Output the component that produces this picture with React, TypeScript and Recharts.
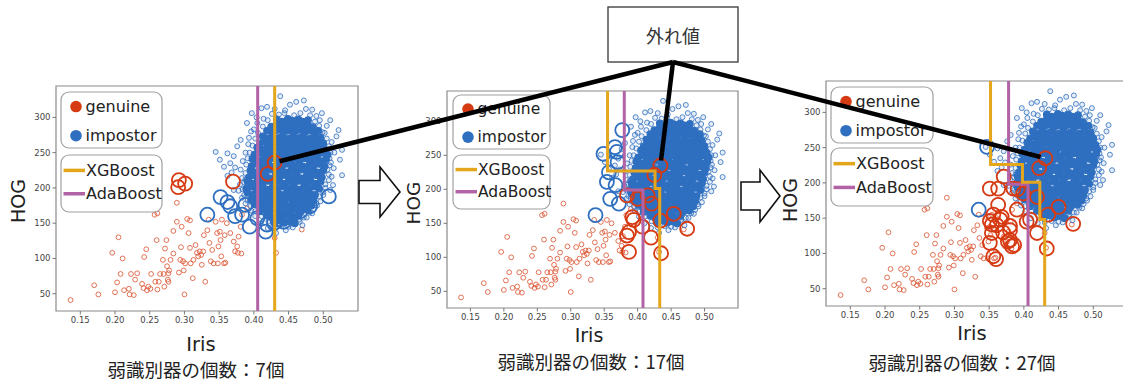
import React from 'react';
import { ScatterChart, Scatter, XAxis, YAxis, ReferenceArea } from 'recharts';

type Pt = [number, number];

const X_DOMAIN: [number, number] = [0.115, 0.55];
const Y_DOMAIN: [number, number] = [25.5, 344.5];
const X_TICKS = [0.15, 0.2, 0.25, 0.3, 0.35, 0.4, 0.45, 0.5];
const Y_TICKS = [50, 100, 150, 200, 250, 300];
const CAPTIONS = ['弱識別器の個数：7個', '弱識別器の個数：17個', '弱識別器の個数：27個'];
const CLASS_NAMES = ['genuine', 'impostor'];
const MODEL_NAMES = ['XGBoost', 'AdaBoost'];
const OUTLIER_LABEL = '外れ値';

const RED = '#D63A12';
const RED_SMALL = '#DD5A3A';
const BLUE = '#2F6FC0';
const XGB_COLOR = '#E3A61C';
const ADA_COLOR = '#B263A6';

// genuine (small markers, same in every panel)
const genuine: Pt[] = [
  [0.136, 41], [0.170, 62], [0.176, 49], [0.196, 108], [0.200, 52], [0.203, 66], [0.205, 130], [0.208, 78],
  [0.211, 100], [0.213, 55], [0.220, 57], [0.221, 49], [0.223, 78], [0.227, 48], [0.229, 70], [0.232, 79],
  [0.239, 64], [0.241, 58], [0.242, 102], [0.245, 113], [0.246, 55], [0.248, 60], [0.251, 57], [0.252, 78],
  [0.258, 67], [0.260, 126], [0.261, 56], [0.263, 67], [0.265, 78], [0.269, 98], [0.270, 78], [0.271, 60],
  [0.272, 114], [0.274, 126], [0.275, 89], [0.276, 70], [0.277, 79], [0.277, 67], [0.278, 83], [0.280, 98],
  [0.284, 107], [0.284, 139], [0.289, 179], [0.289, 152], [0.292, 80], [0.294, 98], [0.295, 116], [0.296, 145],
  [0.298, 96], [0.299, 83], [0.300, 49], [0.301, 93], [0.304, 156], [0.306, 136], [0.308, 154], [0.308, 115],
  [0.309, 93], [0.312, 72], [0.313, 98], [0.316, 119], [0.318, 108], [0.320, 103], [0.322, 110], [0.324, 105],
  [0.325, 91], [0.327, 110], [0.328, 133], [0.330, 67], [0.333, 140], [0.335, 155], [0.336, 122], [0.338, 96],
  [0.340, 112], [0.342, 93], [0.345, 152], [0.347, 136], [0.348, 93], [0.349, 117], [0.351, 138], [0.352, 126],
  [0.353, 103], [0.354, 155], [0.357, 93], [0.358, 133], [0.359, 94], [0.361, 150], [0.366, 136], [0.371, 124],
  [0.373, 110], [0.376, 117], [0.377, 108], [0.378, 131], [0.381, 145], [0.382, 107], [0.383, 162], [0.390, 171],
  [0.397, 185], [0.412, 190], [0.419, 178], [0.430, 129], [0.432, 108], [0.448, 164], [0.469, 141], [0.257, 162],
  [0.261, 164],
];

// impostor, sparse outer ring of the cloud
const impostorEdge: Pt[] = [
  [0.438, 330], [0.461, 322], [0.472, 324], [0.452, 318], [0.484, 311], [0.498, 306], [0.419, 315], [0.411, 313],
  [0.397, 306], [0.404, 300], [0.426, 305], [0.490, 302], [0.510, 296], [0.505, 288], [0.522, 282], [0.519, 273],
  [0.512, 265], [0.527, 254], [0.516, 250], [0.524, 240], [0.515, 228], [0.527, 218], [0.508, 211], [0.514, 204],
  [0.510, 197], [0.500, 190], [0.496, 181], [0.491, 175], [0.484, 164], [0.476, 158], [0.465, 155], [0.470, 147],
  [0.450, 145], [0.432, 136], [0.420, 143], [0.410, 150], [0.402, 160], [0.396, 168], [0.388, 178], [0.383, 186],
  [0.378, 196], [0.371, 197], [0.380, 205], [0.383, 214], [0.388, 212], [0.381, 226], [0.373, 229], [0.362, 217],
  [0.366, 235], [0.351, 240], [0.362, 249], [0.345, 251], [0.371, 245], [0.376, 259], [0.381, 268], [0.393, 271],
  [0.390, 292], [0.400, 283], [0.388, 250], [0.392, 262], [0.384, 238], [0.357, 230], [0.368, 222], [0.396, 280],
  [0.405, 292], [0.414, 298], [0.430, 312], [0.445, 310], [0.475, 312], [0.495, 296], [0.502, 278], [0.509, 242],
  [0.506, 226], [0.512, 216], [0.503, 205],
  [0.436, 304], [0.444, 306], [0.458, 303], [0.467, 306], [0.481, 303], [0.420, 296], [0.488, 294], [0.413, 287],
  [0.494, 288], [0.406, 278], [0.499, 279], [0.402, 270], [0.505, 270], [0.398, 260], [0.508, 259], [0.394, 250],
  [0.510, 250], [0.391, 242], [0.511, 236], [0.389, 233], [0.509, 232], [0.388, 221], [0.508, 219], [0.386, 208],
  [0.503, 200], [0.384, 198], [0.500, 194], [0.386, 190], [0.494, 188], [0.391, 182], [0.490, 178], [0.395, 174],
  [0.486, 170], [0.402, 167], [0.480, 165], [0.411, 160], [0.472, 158], [0.421, 153], [0.466, 152], [0.430, 144],
  [0.440, 146], [0.456, 144], [0.446, 140],
];

// impostor, dense core of the cloud
const impostorCore: Pt[] = [
  [0.433, 297], [0.440, 294], [0.449, 298], [0.455, 295], [0.464, 297], [0.470, 294], [0.478, 296],
  [0.425, 287], [0.433, 290], [0.439, 286], [0.448, 289], [0.454, 286], [0.463, 290], [0.469, 287], [0.478, 289], [0.485, 286],
  [0.419, 281], [0.427, 278], [0.433, 282], [0.442, 279], [0.448, 281], [0.457, 278], [0.463, 282], [0.472, 279], [0.478, 281], [0.487, 278], [0.493, 281],
  [0.413, 273], [0.421, 270], [0.427, 274], [0.436, 271], [0.442, 273], [0.451, 270], [0.457, 274], [0.466, 271], [0.472, 273], [0.481, 270], [0.487, 273], [0.496, 271],
  [0.409, 263], [0.416, 266], [0.425, 263], [0.431, 265], [0.440, 262], [0.446, 265], [0.455, 263], [0.461, 266], [0.470, 263], [0.476, 265], [0.485, 262], [0.491, 265], [0.500, 263],
  [0.405, 257], [0.413, 254], [0.419, 257], [0.428, 255], [0.434, 258], [0.443, 255], [0.449, 257], [0.458, 254], [0.464, 257], [0.473, 255], [0.479, 258], [0.488, 255], [0.494, 257], [0.503, 254],
  [0.401, 247], [0.408, 250], [0.417, 247], [0.423, 249], [0.432, 246], [0.438, 249], [0.447, 247], [0.453, 250], [0.462, 247], [0.468, 249], [0.477, 246], [0.483, 249], [0.492, 247], [0.498, 250], [0.506, 247],
  [0.398, 241], [0.406, 238], [0.413, 241], [0.421, 239], [0.428, 242], [0.436, 239], [0.443, 241], [0.451, 238], [0.458, 241], [0.466, 239], [0.473, 242], [0.481, 239], [0.488, 241], [0.496, 238], [0.504, 241],
  [0.397, 231], [0.405, 234], [0.411, 231], [0.420, 233], [0.426, 230], [0.435, 233], [0.441, 231], [0.450, 234], [0.456, 231], [0.465, 233], [0.471, 230], [0.480, 233], [0.486, 231], [0.495, 234], [0.502, 231],
  [0.395, 225], [0.402, 222], [0.409, 225], [0.417, 223], [0.424, 226], [0.432, 223], [0.439, 225], [0.447, 222], [0.454, 225], [0.462, 223], [0.469, 226], [0.477, 223], [0.484, 225], [0.492, 222], [0.500, 225],
  [0.393, 215], [0.401, 218], [0.407, 215], [0.416, 217], [0.422, 214], [0.431, 217], [0.437, 215], [0.446, 218], [0.452, 215], [0.461, 217], [0.467, 214], [0.476, 217], [0.482, 215], [0.491, 218], [0.498, 215],
  [0.391, 209], [0.398, 206], [0.405, 209], [0.413, 207], [0.420, 210], [0.428, 207], [0.435, 209], [0.443, 206], [0.450, 209], [0.458, 207], [0.465, 210], [0.473, 207], [0.480, 209], [0.488, 206], [0.496, 209],
  [0.389, 199], [0.397, 202], [0.403, 199], [0.412, 201], [0.418, 198], [0.427, 201], [0.433, 199], [0.442, 202], [0.448, 199], [0.457, 201], [0.463, 198], [0.472, 201], [0.478, 199], [0.487, 202], [0.494, 199],
  [0.391, 193], [0.398, 190], [0.405, 193], [0.413, 191], [0.420, 194], [0.428, 191], [0.435, 193], [0.443, 190], [0.450, 193], [0.458, 191], [0.465, 194], [0.473, 191], [0.480, 193], [0.488, 190],
  [0.396, 183], [0.404, 186], [0.410, 183], [0.419, 185], [0.425, 182], [0.434, 185], [0.440, 183], [0.449, 186], [0.455, 183], [0.464, 185], [0.470, 182], [0.479, 185], [0.486, 183],
  [0.401, 177], [0.408, 174], [0.415, 177], [0.423, 175], [0.430, 178], [0.438, 175], [0.445, 177], [0.453, 174], [0.460, 177], [0.468, 175], [0.475, 178], [0.483, 175],
  [0.409, 167], [0.417, 170], [0.423, 167], [0.432, 169], [0.438, 166], [0.447, 169], [0.453, 167], [0.462, 170], [0.468, 167], [0.477, 169],
  [0.419, 161], [0.426, 158], [0.434, 161], [0.441, 159], [0.449, 162], [0.456, 159], [0.464, 161],
  [0.429, 151], [0.437, 154], [0.444, 151], [0.452, 153], [0.459, 150],
];

// misclassified samples (large circles) and decision boundaries per panel
const missGenuine7: Pt[] = [[0.430, 236], [0.292, 211], [0.291, 201], [0.301, 206], [0.370, 209], [0.420, 220]];
const missImpostor7: Pt[] = [
  [0.333, 162], [0.352, 187], [0.366, 174], [0.373, 160], [0.383, 162], [0.394, 145], [0.388, 176], [0.405, 157],
  [0.417, 138], [0.419, 148], [0.429, 150], [0.436, 155], [0.443, 152], [0.453, 159], [0.467, 167], [0.481, 174],
  [0.508, 188], [0.362, 180],
];
const xgb7: Pt[] = [[0.430, 344.5], [0.430, 25.5]];
const ada7: Pt[] = [[0.4055, 344.5], [0.4055, 25.5]];

const missGenuine17: Pt[] = [
  [0.434, 235], [0.425, 221], [0.384, 191], [0.400, 186], [0.415, 191], [0.421, 179], [0.392, 159], [0.394, 155],
  [0.407, 145], [0.434, 154], [0.454, 164], [0.474, 142], [0.384, 132], [0.387, 137], [0.420, 129], [0.387, 108],
  [0.435, 106],
];
const missImpostor17: Pt[] = [
  [0.377, 287], [0.349, 252], [0.369, 255], [0.366, 262], [0.357, 225], [0.354, 211], [0.367, 206], [0.359, 186],
  [0.372, 179], [0.337, 162], [0.370, 240],
];
const xgb17: Pt[] = [[0.355, 344.5], [0.355, 227], [0.426, 227], [0.426, 201], [0.433, 201], [0.433, 25.5]];
const ada17: Pt[] = [[0.380, 344.5], [0.380, 199], [0.408, 199], [0.408, 25.5]];

const missGenuine27: Pt[] = [
  [0.431, 235], [0.422, 221], [0.371, 209], [0.351, 192], [0.363, 192], [0.385, 192], [0.391, 191], [0.399, 185],
  [0.419, 180], [0.363, 169], [0.390, 162], [0.356, 155], [0.368, 152], [0.366, 148], [0.351, 146], [0.354, 141],
  [0.361, 140], [0.380, 139], [0.409, 148], [0.435, 155], [0.450, 166], [0.471, 142], [0.419, 129], [0.354, 129],
  [0.380, 133], [0.380, 119], [0.383, 110], [0.377, 117], [0.351, 115], [0.356, 96], [0.360, 92], [0.433, 107],
  [0.404, 145], [0.370, 130], [0.386, 112],
];
const missImpostor27: Pt[] = [[0.347, 251], [0.335, 162]];
const xgb27: Pt[] = [
  [0.352, 344.5], [0.352, 226], [0.398, 226], [0.398, 201], [0.423, 201], [0.423, 148], [0.430, 148], [0.430, 25.5],
];
const ada27: Pt[] = [[0.378, 344.5], [0.378, 198], [0.406, 198], [0.406, 25.5]];

// the callout points at the first entry of each panel's missGenuine list
const OUTLIER_INDEX = 0;

interface Layout { l: number; t: number; w: number; h: number }

const PANELS = [
  {
    layout: { l: 56, t: 86, w: 302, h: 225 },
    missGenuine: missGenuine7, missImpostor: missImpostor7, xgb: xgb7, ada: ada7,
    legend: { x: 61, y1: 92, h1: 56, y2: 155, h2: 57, w: 101, fs: 16 },
    iris: [201, 351], hog: [18, 201], caption: [196, 369], fs: 19.5,
  },
  {
    layout: { l: 447, t: 91, w: 291, h: 217 },
    missGenuine: missGenuine17, missImpostor: missImpostor17, xgb: xgb17, ada: ada17,
    legend: { x: 453, y1: 95, h1: 54, y2: 155, h2: 54, w: 97, fs: 15.5 },
    iris: [589, 342], hog: [413, 203], caption: [591, 361], fs: 19,
  },
  {
    layout: { l: 826, t: 81, w: 302, h: 225 },
    missGenuine: missGenuine27, missImpostor: missImpostor27, xgb: xgb27, ada: ada27,
    legend: { x: 831, y1: 87, h1: 56, y2: 148, h2: 58, w: 102, fs: 16 },
    iris: [972, 340], hog: [790, 200], caption: [962, 362], fs: 19.5,
  },
];

const CALLOUT = { x: 608, y: 7, w: 130, h: 55 };

const toObj = (pts: Pt[]) => pts.map(([x, y]) => ({ x, y }));

// same linear mapping the chart uses, for the callout line ends
function toPage(layout: Layout, [x, y]: Pt): Pt {
  return [
    layout.l + ((x - X_DOMAIN[0]) / (X_DOMAIN[1] - X_DOMAIN[0])) * layout.w,
    layout.t + ((Y_DOMAIN[1] - y) / (Y_DOMAIN[1] - Y_DOMAIN[0])) * layout.h,
  ];
}

const ring = (color: string, r: number, sw: number, fillOpacity: number, opacity = 1) => (props: any) => (
  <circle cx={props.cx} cy={props.cy} r={r} fill={color} fillOpacity={fillOpacity} stroke={color} strokeWidth={sw} strokeOpacity={opacity} />
);
const noShape = () => <g />;

function Panel({ layout, missGenuine, missImpostor, xgb, ada }: any) {
  const { l, t, w, h } = layout;
  return (
    <div style={{ position: 'absolute', left: l - 40, top: t - 10 }}>
      <ScatterChart width={w + 50} height={h + 40} margin={{ top: 10, right: 10, bottom: 10, left: 10 }}>
        <XAxis
          type="number"
          dataKey="x"
          domain={X_DOMAIN}
          ticks={X_TICKS}
          allowDataOverflow
          height={20}
          axisLine={false}
          tickSize={3.5}
          tickLine={{ stroke: '#777' }}
          tick={{ fontSize: 8.5, fill: '#444', fontFamily: 'DejaVu Sans' }}
          tickFormatter={(v: number) => v.toFixed(2)}
        />
        <YAxis
          type="number"
          dataKey="y"
          domain={Y_DOMAIN}
          ticks={Y_TICKS}
          allowDataOverflow
          width={30}
          axisLine={false}
          tickSize={3.5}
          tickLine={{ stroke: '#777' }}
          tick={{ fontSize: 8.5, fill: '#444', fontFamily: 'DejaVu Sans' }}
        />
        <ReferenceArea x1={X_DOMAIN[0]} x2={X_DOMAIN[1]} y1={Y_DOMAIN[0]} y2={Y_DOMAIN[1]} fill="none" fillOpacity={0} stroke="#8a8a8a" strokeWidth={1.2} />
        <Scatter data={toObj(genuine)} shape={ring(RED_SMALL, 2.4, 1, 0, 0.85)} isAnimationActive={false} />
        <Scatter data={toObj(impostorEdge)} shape={ring(BLUE, 2.5, 1, 0.12, 0.8)} isAnimationActive={false} />
        <Scatter data={toObj(impostorCore)} shape={ring(BLUE, 3.3, 1.2, 1)} isAnimationActive={false} />
        <Scatter data={toObj(missImpostor)} shape={ring(BLUE, 7, 1.8, 0)} isAnimationActive={false} />
        <Scatter data={toObj(missGenuine)} shape={ring(RED, 7, 1.8, 0)} isAnimationActive={false} />
        <Scatter data={toObj(ada)} line={{ stroke: ADA_COLOR, strokeWidth: 3 }} lineType="joint" shape={noShape} fill={ADA_COLOR} isAnimationActive={false} />
        <Scatter data={toObj(xgb)} line={{ stroke: XGB_COLOR, strokeWidth: 3 }} lineType="joint" shape={noShape} fill={XGB_COLOR} isAnimationActive={false} />
      </ScatterChart>
    </div>
  );
}

function LegendBoxes({ x, y1, h1, y2, h2, w, fs }: any) {
  const rowA = [y1 + h1 * 0.26, y1 + h1 * 0.78];
  const rowB = [y2 + h2 * 0.27, y2 + h2 * 0.68];
  const classColors = [RED, BLUE];
  const modelColors = [XGB_COLOR, ADA_COLOR];
  return (
    <g fontFamily="DejaVu Sans" fontSize={fs} fill="#222">
      <rect x={x} y={y1} width={w} height={h1} rx={8} fill="#fff" fillOpacity={0.85} stroke="#a0a0a0" strokeWidth={1.2} />
      {CLASS_NAMES.map((n, i) => (
        <g key={n}>
          <circle cx={x + 15} cy={rowA[i]} r={5.8} fill={classColors[i]} />
          <text x={x + 24.5} y={rowA[i]} dominantBaseline="central">{n}</text>
        </g>
      ))}
      <rect x={x} y={y2} width={w} height={h2} rx={8} fill="#fff" fillOpacity={0.85} stroke="#a0a0a0" strokeWidth={1.2} />
      {MODEL_NAMES.map((n, i) => (
        <g key={n}>
          <line x1={x + 2.5} x2={x + 24} y1={rowB[i]} y2={rowB[i]} stroke={modelColors[i]} strokeWidth={3.5} />
          <text x={x + 25} y={rowB[i]} dominantBaseline="central">{n}</text>
        </g>
      ))}
    </g>
  );
}

function BlockArrow({ x0, x1, x2, cy, shaft, head }: any) {
  const pts = [
    [x0, cy - shaft / 2], [x1, cy - shaft / 2], [x1, cy - head / 2], [x2, cy],
    [x1, cy + head / 2], [x1, cy + shaft / 2], [x0, cy + shaft / 2],
  ].map((p) => p.join(',')).join(' ');
  return <polygon points={pts} fill="#fff" stroke="#111" strokeWidth={1.6} strokeLinejoin="miter" />;
}

export default function App() {
  const apex: Pt = [CALLOUT.x + CALLOUT.w / 2, CALLOUT.y + CALLOUT.h];
  return (
    <div style={{ position: 'relative', width: 1123, height: 383, overflow: 'hidden', background: '#fff' }}>
      <style>{'body{margin:0}'}</style>
      {PANELS.map((p, i) => (
        <Panel key={i} {...p} />
      ))}
      <svg width={1123} height={383} style={{ position: 'absolute', left: 0, top: 0, pointerEvents: 'none' }}>
        {PANELS.map((p, i) => (
          <g key={i}>
            <LegendBoxes {...p.legend} />
            <text x={p.iris[0]} y={p.iris[1]} textAnchor="middle" fontFamily="DejaVu Sans" fontSize={p.fs} fill="#222">Iris</text>
            <text
              x={p.hog[0]}
              y={p.hog[1]}
              textAnchor="middle"
              dominantBaseline="central"
              transform={`rotate(-90 ${p.hog[0]} ${p.hog[1]})`}
              fontFamily="DejaVu Sans"
              fontSize={p.fs - 0.5}
              fill="#222"
            >
              HOG
            </text>
            <text x={p.caption[0]} y={p.caption[1]} textAnchor="middle" dominantBaseline="central" fontFamily="Noto Sans CJK JP" fontSize={18.5} fill="#222">
              {CAPTIONS[i]}
            </text>
          </g>
        ))}
        <BlockArrow x0={359} x1={380} x2={400} cy={192} shaft={23} head={50} />
        <BlockArrow x0={741} x1={760} x2={780} cy={196} shaft={28} head={52} />
        <rect x={CALLOUT.x} y={CALLOUT.y} width={CALLOUT.w} height={CALLOUT.h} fill="#fff" stroke="#444" strokeWidth={1.4} />
        <text x={apex[0]} y={CALLOUT.y + CALLOUT.h / 2} textAnchor="middle" dominantBaseline="central" fontFamily="Noto Sans CJK JP" fontSize={18} fill="#333">
          {OUTLIER_LABEL}
        </text>
        {PANELS.map((p, i) => {
          const [cx, cy] = toPage(p.layout, p.missGenuine[OUTLIER_INDEX]);
          const dx = apex[0] - cx;
          const dy = apex[1] - cy;
          const d = Math.hypot(dx, dy);
          const ex = cx + (dx / d) * 5;
          const ey = cy + (dy / d) * 5;
          return <line key={i} x1={apex[0]} y1={apex[1]} x2={ex} y2={ey} stroke="#000" strokeWidth={4.5} />;
        })}
      </svg>
    </div>
  );
}
